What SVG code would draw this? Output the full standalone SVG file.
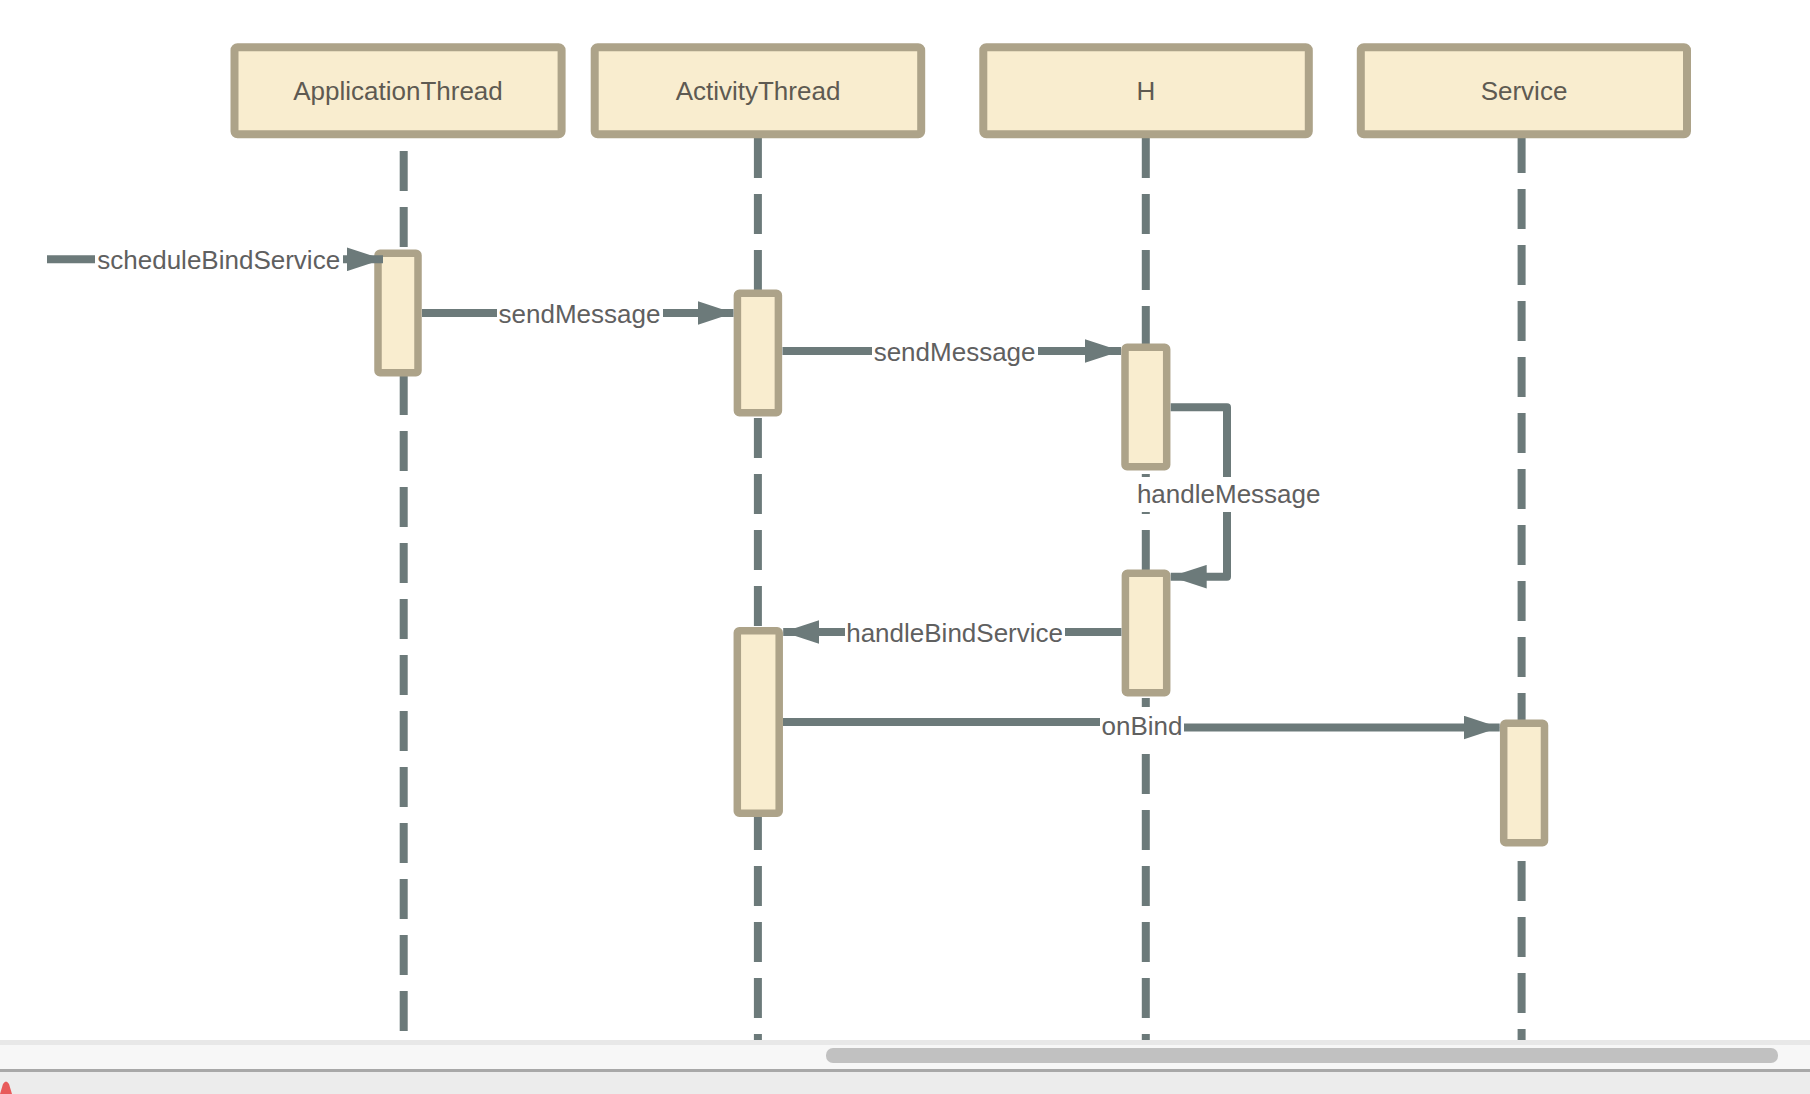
<svg xmlns="http://www.w3.org/2000/svg" width="1810" height="1094" viewBox="0 0 1810 1094">
<style>
.box{fill:#f9edcf;stroke:#ada389;stroke-width:8}
.act{fill:#f9edcf;stroke:#ada389;stroke-width:7.5}
.life{stroke:#6c7a7a;stroke-width:8;stroke-dasharray:40 16;fill:none}
.title{font-family:"Liberation Sans",Arial,sans-serif;font-size:26px;fill:#5e5a52;text-anchor:middle}
.msg{fill:none;stroke:#6c7a7a;stroke-width:8;stroke-linejoin:round}
.lbl{font-family:"Liberation Sans",Arial,sans-serif;font-size:26px;fill:#5f6060;text-anchor:middle}
.lblbg{fill:#ffffff}
</style>
<defs>
<marker id="ah" markerUnits="userSpaceOnUse" markerWidth="36" markerHeight="24" viewBox="0 0 35 23" refX="35" refY="11.5" orient="auto">
<path d="M0,0 L35,11.5 L0,23 Z" fill="#6c7a7a"/>
</marker>
</defs>
<rect x="0" y="0" width="1810" height="1094" fill="#ffffff"/>
<g id="participant-ApplicationThread">
<line class="life" x1="403.7" y1="151" x2="403.7" y2="1094"/>
<rect class="box" x="234.5" y="47.3" width="327.1" height="87" rx="3"/>
<text class="title" x="398" y="100">ApplicationThread</text>
</g>
<g id="participant-ActivityThread">
<line class="life" x1="757.9" y1="138" x2="757.9" y2="1094"/>
<rect class="box" x="594.7" y="47.3" width="326.5" height="87" rx="3"/>
<text class="title" x="758" y="100">ActivityThread</text>
</g>
<g id="participant-H">
<line class="life" x1="1145.8" y1="138" x2="1145.8" y2="1094"/>
<rect class="box" x="983.3" y="47.3" width="325.5" height="87" rx="3"/>
<text class="title" x="1146" y="100">H</text>
</g>
<g id="participant-Service">
<line class="life" x1="1521.6" y1="133" x2="1521.6" y2="1094"/>
<rect class="box" x="1360.8" y="47.3" width="326.2" height="87" rx="3"/>
<text class="title" x="1524" y="100">Service</text>
</g>
<g id="activation-ApplicationThread-1"><rect class="act" x="378" y="253.3" width="40" height="119.4" rx="2"/></g>
<g id="activation-ActivityThread-1"><rect class="act" x="737.4" y="293.3" width="41" height="119.4" rx="2"/></g>
<g id="activation-H-1"><rect class="act" x="1125" y="347.3" width="41.7" height="119.4" rx="2"/></g>
<g id="activation-H-2"><rect class="act" x="1125.4" y="573.3" width="41.3" height="119.4" rx="2"/></g>
<g id="activation-ActivityThread-2"><rect class="act" x="737.3" y="630.7" width="41.9" height="182.6" rx="2"/></g>
<g id="activation-Service-1"><rect class="act" x="1503.7" y="723.3" width="40.8" height="119.4" rx="2"/></g>
<g id="connectors">
<path class="msg" d="M47,259.3 L383,259.3" marker-end="url(#ah)"/>
<path class="msg" d="M422,313 L733.5,313" marker-end="url(#ah)"/>
<path class="msg" d="M782.5,351 L1121,351" marker-end="url(#ah)"/>
<path class="msg" d="M1170.7,407.3 L1227,407.3 L1227,576.7 L1170.7,576.7" marker-end="url(#ah)"/>
<path class="msg" d="M1121.4,632 L783.2,632" marker-end="url(#ah)"/>
<path class="msg" d="M783,722 L1138,722 L1146,727.5 L1499.7,727.5" marker-end="url(#ah)"/>
<rect class="lblbg" x="95" y="242" width="248" height="36"/>
<text class="lbl" x="218.7" y="269">scheduleBindService</text>
<rect class="lblbg" x="497" y="295.5" width="166" height="36"/>
<text class="lbl" x="579.5" y="322.5">sendMessage</text>
<rect class="lblbg" x="872" y="333.5" width="166" height="36"/>
<text class="lbl" x="954.6" y="360.5">sendMessage</text>
<rect class="lblbg" x="1136" y="477" width="186" height="35"/>
<text class="lbl" x="1228.7" y="503.3">handleMessage</text>
<rect class="lblbg" x="845" y="614.5" width="220" height="36"/>
<text class="lbl" x="954.6" y="641.5">handleBindService</text>
<rect class="lblbg" x="1100" y="707" width="84" height="38"/>
<text class="lbl" x="1142" y="735">onBind</text>
</g>
<rect x="0" y="1040" width="1810" height="30" fill="#f7f7f7"/>
<rect x="0" y="1040" width="1810" height="5" fill="#e8e8e8"/>
<rect x="826" y="1048" width="952" height="15" rx="7" fill="#c1c1c1"/>
<rect x="0" y="1069" width="1810" height="3" fill="#a8a8a8"/>
<rect x="0" y="1072" width="1810" height="22" fill="#ececec"/>
<path d="M0,1094 L3,1084 Q6,1079 9,1084 L12,1094 Z" fill="#e85a5a"/>
</svg>
